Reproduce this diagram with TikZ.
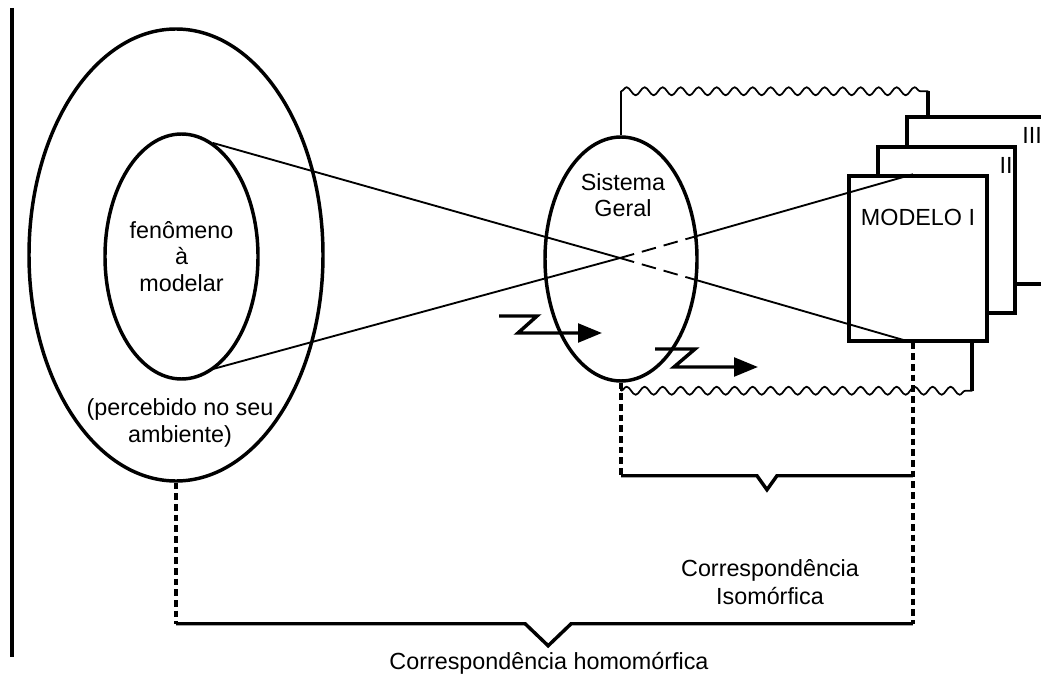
\documentclass[tikz,border=0pt]{standalone}
\usepackage{fontspec}
\setmainfont{Liberation Sans}
\usetikzlibrary{shapes.geometric,positioning,decorations.pathmorphing,arrows.meta,calc}

\tikzset{
  oval/.style={ellipse, draw, line width=2.6pt, inner sep=0pt},
  card/.style={rectangle, draw, line width=2.6pt, fill=white, inner sep=0pt},
  txt/.style={font=\fontsize{17.5}{20}\selectfont, align=center, inner sep=0pt},
  ray/.style={line width=1.4pt},
  rayhid/.style={line width=1.4pt, dash pattern=on 11pt off 6pt},
  wave/.style={line width=1.3pt, decorate, decoration={snake, segment length=13.5pt, amplitude=3pt}},
  tie/.style={line width=2.6pt, dash pattern=on 5pt off 3pt},
  brace/.style={line width=2.6pt},
  flow/.style={line width=2.6pt, -{Triangle[length=18pt,width=14pt]}}
}

\begin{document}
\begin{tikzpicture}[x=0.75pt,y=-0.75pt]
\useasboundingbox (0,0) rectangle (1041,677);
\clip (0,0) rectangle (1041,677);

% left boundary
\draw[line width=2.8pt] (12,8) -- (12,657);

% phenomenon in its surroundings
\node[oval, minimum width=220.5pt, minimum height=339pt] (env) at (176,255) {};
\node[oval, txt, minimum width=114.75pt, minimum height=183.75pt] (fen) at (181.5,256.5) {fenômeno\\à\\modelar};
\node[txt] (envlbl) at (180,423) {(percebido no seu\\ambiente)};

% general system
\node[oval, minimum width=114pt, minimum height=183pt] (sg) at (621,259) {};
\node[txt, font=\fontsize{17.5}{19}\selectfont] (sglbl) at (623,195) {Sistema\\Geral};

% models
\node[card, minimum width=105pt, minimum height=125.25pt] (m3) at (977,200.5) {};
\node[card, minimum width=102.75pt, minimum height=124.5pt] (m2) at (946.5,230) {};
\node[card, minimum width=103.5pt, minimum height=123.75pt] (m1) at (918,258.5) {};
\node[txt] (m3lbl) at (1032,135) {III};
\node[txt] (m2lbl) at (1006,165) {II};
\node[txt] (m1lbl) at (918,217) {MODELO I};

% projection lines
\coordinate (cross) at (620,258);
\coordinate (fenA) at (213,143);
\coordinate (fenB) at (213,369);
\coordinate (m1A) at ($(m1.north west)!0.464!(m1.north east)$);
\coordinate (m1B) at ($(m1.south west)!0.464!(m1.south east)$);
\coordinate (sgA) at ($(cross)!0.26!(m1B)$);
\coordinate (sgB) at ($(cross)!0.26!(m1A)$);

\draw[ray] (fenA) -- (cross);
\draw[rayhid] (cross) -- (sgA);
\draw[ray] (sgA) -- (m1B);
\draw[ray] (fenB) -- (cross);
\draw[rayhid] (cross) -- (sgB);
\draw[ray] (sgB) -- (m1A);

% wavy links
\coordinate (sgT) at ($(sg.north)+(0,-44)$);
\coordinate (m3T) at ($(m3.north west)+(23,0)$);
\draw[line width=2pt] (sg.north) -- (sgT);
\draw[wave] (sgT) -- (sgT -| m3T);
\draw[line width=3pt] (sgT -| m3T) -- (m3T);

\coordinate (sgD) at ($(sg.south)+(0,8)$);
\coordinate (m1R) at ($(m1.south west)+(125,0)$);
\draw[line width=2pt] (sg.south) -- (sgD);
\draw[wave] (sgD) -- (sgD -| m1R);
\draw[line width=3pt] (sgD -| m1R) -- (m1R);

% flows
\draw[flow] (499,316) -- (537,316) -- (518,333) -- (602,333);
\draw[flow] (655,349) -- (695,349) -- (674,367) -- (758,367);

% correspondences
\coordinate (isoL) at ($(sg.south)+(0,93)$);
\coordinate (isoR) at (isoL -| m1B);
\coordinate (homR) at ($(m1B)+(0,281)$);
\coordinate (homL) at (homR -| env.south);

\draw[tie] (sg.south) -- (isoL);
\draw[tie] (m1B) -- (homR);
\draw[tie] (env.south) -- (homL);

\draw[brace] (isoL) -- ($(isoL)!0.5!(isoR)+(-10,0)$) -- ++(10,14) -- ++(10,-14) -- (isoR);
\draw[brace] (homL) -- ($(homL)!0.505!(homR)+(-23,0)$) -- ++(23,22) -- ++(23,-22) -- (homR);

\node[txt, font=\fontsize{17.5}{21}\selectfont] (isolbl) at (770,582) {Correspondência\\Isomórfica};
\node[txt] (homlbl) at (549,663) {Correspondência homomórfica};

\end{tikzpicture}
\end{document}
